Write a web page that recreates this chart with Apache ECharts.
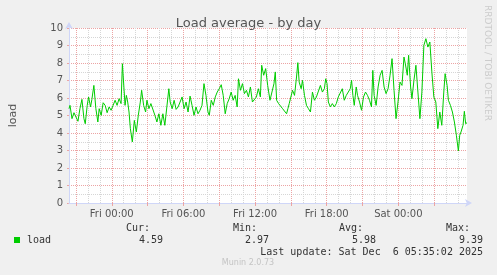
<!DOCTYPE html>
<html><head><meta charset="utf-8">
<script src="https://cdn.jsdelivr.net/npm/echarts@6/dist/echarts.min.js"></script>
<style>html,body{margin:0;padding:0;background:#f0f0f0}#c{width:497px;height:275px}</style>
</head><body><div id="c"></div><script>
// hours relative to Fri 00:00
const hours = [-3.583,-3.5,-3.333,-3.167,-3.0,-2.833,-2.667,-2.5,-2.333,-2.222,-2.056,-1.944,-1.778,-1.667,-1.5,-1.333,-1.167,-1.056,-0.889,-0.722,-0.556,-0.389,-0.222,-0.056,0.111,0.278,0.444,0.611,0.778,0.889,1.0,1.111,1.222,1.333,1.444,1.556,1.722,1.889,2.056,2.222,2.389,2.5,2.667,2.833,2.944,3.111,3.278,3.444,3.611,3.778,3.944,4.111,4.278,4.444,4.611,4.778,4.889,5.056,5.222,5.389,5.556,5.722,5.889,6.056,6.222,6.389,6.556,6.722,6.889,7.056,7.222,7.389,7.556,7.722,7.889,8.056,8.167,8.333,8.5,8.667,8.833,9.0,9.167,9.333,9.5,9.667,9.833,10.0,10.167,10.333,10.5,10.611,10.778,10.944,11.111,11.278,11.444,11.611,11.778,11.944,12.111,12.278,12.444,12.556,12.722,12.889,13.056,
13.25,13.417,13.583,13.694,13.806,13.972,14.139,14.306,14.472,14.639,14.75,14.861,15.028,15.139,15.306,15.472,15.583,15.694,15.861,15.972,16.139,16.306,16.472,16.639,16.806,16.972,17.139,17.306,17.472,17.639,17.806,17.917,18.028,18.139,18.306,18.472,18.639,18.806,18.972,19.139,19.306,19.472,19.639,19.806,19.972,20.083,20.194,20.306,20.472,20.583,20.75,20.917,21.083,21.25,21.417,21.583,21.75,21.861,21.972,22.139,22.306,22.472,22.639,22.806,22.972,23.139,23.306,23.472,23.639,23.806,23.972,24.139,24.306,24.472,24.583,24.75,24.861,25.028,25.139,25.306,25.472,25.639,25.806,25.972,26.139,26.306,26.472,26.639,26.806,26.972,27.139,27.306,27.472,27.639,27.806,27.917,28.083,28.194,28.361,28.528,28.694,28.861,29.028,29.139,29.25,29.417,29.528,29.639,29.75];
const load = [5.39,5.58,4.82,5.16,5.10,4.67,5.39,5.92,4.82,4.53,5.58,6.06,5.49,5.92,6.72,5.39,4.63,5.39,5.01,5.73,5.58,5.16,5.49,5.30,5.58,5.87,5.58,5.96,5.68,7.96,7.96,5.58,6.15,5.77,5.20,4.25,3.49,4.72,4.06,5.01,5.77,6.44,5.58,5.20,5.87,5.39,5.68,5.58,5.01,4.63,5.10,4.44,5.10,4.44,4.34,6.53,5.77,5.39,5.87,5.35,5.49,5.58,6.06,5.39,5.77,5.20,6.11,5.58,5.01,5.49,5.10,5.30,5.58,6.82,6.15,5.20,5.01,5.87,5.58,6.06,6.34,6.53,6.76,6.15,5.10,5.68,5.96,6.34,5.87,6.15,5.49,7.10,6.44,6.82,6.25,6.44,6.06,6.63,5.77,5.68,6.06,6.53,6.06,7.87,7.30,7.68,6.72,
5.87,5.77,6.82,7.49,5.87,5.68,5.58,5.39,5.30,5.10,5.39,5.68,5.58,6.44,6.15,7.20,8.02,6.91,6.53,7.01,6.15,5.58,5.39,5.20,6.34,5.87,6.06,5.96,6.72,6.34,6.53,7.10,6.82,5.77,5.49,5.68,5.49,5.68,6.06,5.96,6.53,5.87,6.15,6.34,6.53,7.01,6.15,5.58,6.63,6.15,5.77,5.30,6.06,6.34,6.15,5.87,5.49,7.58,6.15,5.58,6.63,7.30,7.58,6.63,6.25,6.53,7.30,8.25,6.44,4.82,5.77,6.91,6.72,8.34,7.96,7.30,8.44,6.63,5.96,7.01,7.87,6.34,4.82,6.34,9.01,9.39,8.91,9.20,7.49,6.06,5.77,4.25,5.20,4.44,6.34,7.39,6.72,5.87,5.58,5.20,4.63,3.87,2.97,3.87,4.06,4.44,5.24,4.53,4.59];
const xStart = -3.583, xEnd = 29.75;
const xTickHours = [0, 6, 12, 18, 24];
const xTickLabels = ['Fri 00:00', 'Fri 06:00', 'Fri 12:00', 'Fri 18:00', 'Sat 00:00'];
const statNames = ['Cur:', 'Min:', 'Avg:', 'Max:'];
const statValues = ['4.59', '2.97', '5.98', '9.39'];
const seriesName = 'load';
const titleText = 'Load average - by day';
const yName = 'load';
const lastUpdate = 'Last update: Sat Dec  6 05:35:02 2025';
const footer = 'Munin 2.0.73';
const sideText = 'RRDTOOL / TOBI OETIKER';

const GREEN = '#00CC00';
const MINOR = '#d6d6d6';
const MAJOR = '#eca4a4';
const AXIS = '#CFD6F8';
const TXT = '#555555';
const SANS = 'DejaVu Sans';
const MONO = 'DejaVu Sans Mono';

const chart = echarts.init(document.getElementById('c'), null, {renderer: 'canvas'});
const statNameX = [150, 257, 363, 470];
const statValX = [163, 269, 376, 483];
const graphics = [
  {type: 'rect', shape: {x: 14, y: 237, width: 6, height: 6}, style: {fill: GREEN}},
  {type: 'text', x: 27, y: 240, style: {text: seriesName, font: '10px "' + MONO + '"', fill: '#333', verticalAlign: 'middle'}},
  {type: 'text', x: 483, y: 252, style: {text: lastUpdate, font: '10px "' + MONO + '"', fill: '#333', align: 'right', verticalAlign: 'middle'}},
  {type: 'text', x: 248, y: 263, style: {text: footer, font: '8px "' + SANS + '"', fill: '#c4c4c4', align: 'center', verticalAlign: 'middle'}},
  {type: 'text', x: 487, y: 5, rotation: -Math.PI / 2, style: {text: sideText, font: '9px "' + SANS + '"', fill: '#cccccc', align: 'left', verticalAlign: 'middle'}}
];
statNames.forEach((n, i) => {
  graphics.push({type: 'text', x: statNameX[i], y: 228, style: {text: n, font: '10px "' + MONO + '"', fill: '#333', align: 'right', verticalAlign: 'middle'}});
  graphics.push({type: 'text', x: statValX[i], y: 240, style: {text: statValues[i], font: '10px "' + MONO + '"', fill: '#333', align: 'right', verticalAlign: 'middle'}});
});

chart.setOption({
  animation: false,
  backgroundColor: '#f0f0f0',
  title: {text: titleText, left: 'center', top: 12, textStyle: {fontFamily: SANS, fontSize: 13, fontWeight: 'normal', color: TXT}},
  grid: {left: 67, right: 30, top: 28, bottom: 72, show: true, backgroundColor: '#ffffff', borderWidth: 0},
  xAxis: [
    {type: 'value', position: 'top', min: xStart, max: xEnd, minInterval: 1, maxInterval: 1, z: 0,
     axisLine: {show: false, onZero: false}, axisTick: {show: false}, axisLabel: {show: false},
     splitLine: {show: true, showMinLine: false, showMaxLine: false, lineStyle: {color: MINOR, width: 1, type: [1, 1]}}},
    {type: 'value', position: 'bottom', min: xStart, max: xEnd, minInterval: 3, maxInterval: 3, z: 1,
     axisLine: {show: true, onZero: false, lineStyle: {color: AXIS, width: 1}, symbol: ['none', 'arrow'], symbolSize: [6, 7], symbolOffset: [0, 5]},
     axisTick: {show: true, length: 3, inside: false, lineStyle: {color: MAJOR}},
     axisLabel: {margin: 6, fontFamily: SANS, fontSize: 10, color: TXT, showMinLabel: false, showMaxLabel: false,
       formatter: v => { const i = xTickHours.findIndex(h => Math.abs(h - v) < 1e-6); return i >= 0 ? xTickLabels[i] : ''; }},
     splitLine: {show: true, showMinLine: false, showMaxLine: false, lineStyle: {color: MAJOR, width: 1, type: [1, 1]}}}
  ],
  yAxis: {type: 'value', min: 0, max: 10, interval: 1, name: yName, nameLocation: 'middle', nameGap: 50,
    nameTextStyle: {fontFamily: SANS, fontSize: 11, color: TXT},
    axisLine: {show: true, onZero: false, lineStyle: {color: AXIS, width: 1}, symbol: ['none', 'arrow'], symbolSize: [6, 7], symbolOffset: [0, 6]},
    axisTick: {show: true, length: 2, lineStyle: {color: MAJOR}},
    axisLabel: {margin: 6, fontFamily: SANS, fontSize: 10, color: TXT},
    splitLine: {show: true, lineStyle: {color: MAJOR, width: 1, type: [1, 1]}},
    minorTick: {show: true, splitNumber: 2, length: 0, lineStyle: {color: 'rgba(0,0,0,0)'}},
    minorSplitLine: {show: true, lineStyle: {color: MINOR, width: 1, type: [1, 1]}}},
  series: [{type: 'line', name: seriesName, xAxisIndex: 1, data: hours.map((h, i) => [h, load[i]]),
    showSymbol: false, symbol: 'none', lineStyle: {color: GREEN, width: 1}, itemStyle: {color: GREEN}, z: 5}],
  graphic: graphics
});
</script></body></html>
